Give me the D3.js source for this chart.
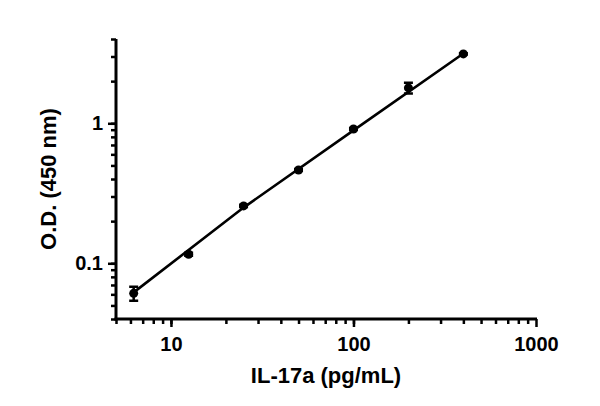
<!DOCTYPE html>
<html>
<head>
<meta charset="utf-8">
<script src="https://cdn.jsdelivr.net/npm/d3@7"></script>
<style>
  body { margin: 0; background: #fff; }
  text { font-family: "Liberation Sans", Arial, sans-serif; font-weight: bold; fill: #000; }
</style>
</head>
<body>
<svg id="chart" width="600" height="406"></svg>
<script>
// IL-17a standard curve
const concentrations = [6.25, 12.5, 25, 50, 100, 200, 400]
const odMeans = [0.061, 0.116, 0.257, 0.464, 0.911, 1.79, 3.13]
const odErrors = [0.007, 0.003, 0.005, 0.008, 0.015, 0.16, 0.03]
const fitX = [6.25, 25, 100, 400]
const fitY = [0.062, 0.25, 0.89, 3.15]
const xTickLabels = ['10', '100', '1000']
const yTickLabels = ['0.1', '1']

let margin = {top: 39, right: 64, bottom: 87, left: 116}
let width = 600 - margin.left - margin.right
let height = 406 - margin.top - margin.bottom

let svg = d3.select('#chart')
let g = svg.append('g')
    .attr('transform', 'translate(' + margin.left + ',' + margin.top + ')')

let x = d3.scaleLog()
    .domain([5, 1000])
    .range([0, width])

let y = d3.scaleLog()
    .domain([0.04, 4])
    .range([height, 0])

// minor ticks for every 1..9 step in each decade
let xMinor = []
for (let d = 1; d <= 100; d *= 10) {
  for (let k = 1; k <= 9; k++) {
    let v = k * d
    if (v >= 5 && v <= 1000) xMinor.push(v)
  }
}
let yMinor = []
for (let d = 0.01; d <= 1; d *= 10) {
  for (let k = 1; k <= 9; k++) {
    let v = +(k * d).toPrecision(3)
    if (v >= 0.04 && v <= 4) yMinor.push(v)
  }
}

let xAxis = g.append('g')
    .attr('transform', 'translate(0,' + height + ')')
    .call(d3.axisBottom(x).tickValues(xMinor).tickSize(5).tickFormat(''))
let xMajor = g.append('g')
    .attr('transform', 'translate(0,' + height + ')')
    .call(d3.axisBottom(x).tickValues([10, 100, 1000]).tickSize(8).tickPadding(10)
      .tickFormat((d, i) => xTickLabels[i]))

let yAxis = g.append('g')
    .call(d3.axisLeft(y).tickValues(yMinor).tickSize(5).tickFormat(''))
let yMajor = g.append('g')
    .call(d3.axisLeft(y).tickValues([0.1, 1]).tickSize(8).tickPadding(5)
      .tickFormat((d, i) => yTickLabels[i]))

svg.selectAll('.domain')
    .style('stroke', '#000')
    .style('stroke-width', 3)
svg.selectAll('.tick line')
    .style('stroke', '#000')
    .style('stroke-width', 2.5)
svg.selectAll('.tick text')
    .style('font-size', '20px')
    .style('font-family', '"Liberation Sans", Arial, sans-serif')
    .style('font-weight', 'bold')

// clean overlap at the axis corner
xMajor.select('.domain').remove()
yMajor.select('.domain').remove()
xAxis.select('.domain').attr('d', 'M-1.5,0H' + (width + 1))
yAxis.select('.domain').attr('d', 'M0,' + (height + 1.5) + 'V0')

// fitted line
let fit = fitX.map((v, i) => [v, fitY[i]])
g.append('path')
    .datum(fit)
    .attr('fill', 'none')
    .attr('stroke', '#000')
    .attr('stroke-width', 2.6)
    .attr('d', d3.line().x(d => x(d[0])).y(d => y(d[1])))

let points = concentrations.map((c, i) => ({c: c, m: odMeans[i], e: odErrors[i]}))

let bars = g.append('g')
bars.selectAll('.err')
    .data(points)
  .enter().append('path')
    .attr('class', 'err')
    .attr('fill', 'none')
    .attr('stroke', '#000')
    .attr('stroke-width', 2.5)
    .attr('d', function(d) {
      let cx = x(d.c)
      let y1 = y(d.m + d.e)
      let y0 = y(d.m - d.e)
      return 'M' + (cx - 4.5) + ',' + y1 + 'H' + (cx + 4.5) +
        'M' + cx + ',' + y1 + 'V' + y0 +
        'M' + (cx - 4.5) + ',' + y0 + 'H' + (cx + 4.5)
    })

bars.selectAll('.dot')
    .data(points)
  .enter().append('circle')
    .attr('class', 'dot')
    .attr('cx', d => x(d.c))
    .attr('cy', d => y(d.m))
    .attr('r', 4.5)
    .attr('fill', '#000')

svg.append('text')
    .attr('x', margin.left + width / 2)
    .attr('y', 383)
    .attr('text-anchor', 'middle')
    .style('font-size', '22px')
    .text('IL-17a (pg/mL)')

svg.append('text')
    .attr('transform', 'translate(56,' + (margin.top + height / 2) + ') rotate(-90)')
    .attr('text-anchor', 'middle')
    .style('font-size', '22px')
    .text('O.D. (450 nm)')
</script>
</body>
</html>
